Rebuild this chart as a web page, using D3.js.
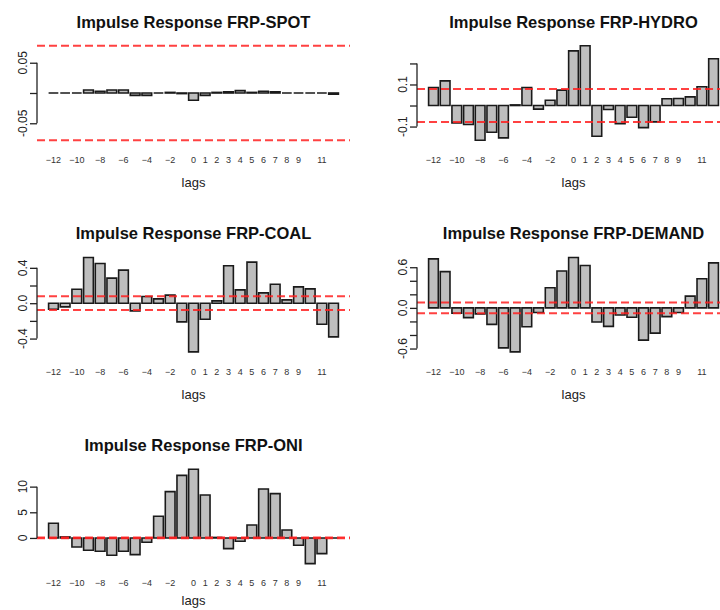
<!DOCTYPE html>
<html>
<head>
<meta charset="utf-8">
<script src="https://cdn.jsdelivr.net/npm/d3@7"></script>
<style>
  body { margin: 0; background: #fff; }
  text { font-family: "Liberation Sans", Arial, sans-serif; }
</style>
</head>
<body>
<div id="chart-area"></div>
<script>
const lags = [-12, -11, -10, -9, -8, -7, -6, -5, -4, -3, -2, -1, 0, 1, 2, 3, 4, 5, 6, 7, 8, 9, 10, 11, 12];
const lagLabels = ['\u221212', '', '\u221210', '', '\u22128', '', '\u22126', '', '\u22124', '', '\u22122', '',
    '0', '1', '2', '3', '4', '5', '6', '7', '8', '9', '', '11', ''];

const titles = ['Impulse Response FRP-SPOT', 'Impulse Response FRP-HYDRO', 'Impulse Response FRP-COAL',
    'Impulse Response FRP-DEMAND', 'Impulse Response FRP-ONI'];

const spot = [0.000, 0.000, 0.000, 0.005, 0.003, 0.005, 0.005, -0.004, -0.004, 0.000, 0.001, -0.001,
    -0.012, -0.004, 0.001, 0.002, 0.004, 0.001, 0.003, 0.002, 0.000, 0.000, 0.000, 0.000, -0.002];
const hydro = [0.086, 0.117, -0.083, -0.090, -0.165, -0.127, -0.154, 0.003, 0.086, -0.017, 0.025, 0.073,
    0.260, 0.284, -0.146, -0.019, -0.086, -0.056, -0.105, -0.078, 0.032, 0.033, 0.041, 0.089, 0.222];
const coal = [-0.068, -0.042, 0.158, 0.517, 0.449, 0.283, 0.374, -0.087, 0.075, 0.049, 0.091, -0.211,
    -0.551, -0.181, 0.026, 0.423, 0.151, 0.464, 0.117, 0.215, 0.038, 0.185, 0.162, -0.238, -0.381];
const demand = [0.724, 0.535, -0.079, -0.144, -0.089, -0.243, -0.590, -0.650, -0.278, -0.069, 0.297, 0.545,
    0.744, 0.625, -0.208, -0.273, -0.104, -0.139, -0.476, -0.372, -0.129, -0.069, 0.174, 0.431, 0.664];
const oni = [2.86, 0.2, -1.75, -2.4, -2.6, -3.38, -2.6, -3.25, -0.84, 4.22, 9.03, 12.2,
    13.4, 8.38, 0.1, -2.08, -0.65, 2.53, 9.55, 8.64, 1.56, -1.43, -5.0, -3.05, 0.0];

const series = [spot, hydro, coal, demand, oni];

// confidence band (same for every panel)
const ciLevel = 0.078;

const yTicks = [
    [-0.05, 0, 0.05],
    [-0.1, 0, 0.1, 0.2],
    [-0.4, -0.2, 0, 0.2, 0.4],
    [-0.6, -0.4, -0.2, 0, 0.2, 0.4, 0.6],
    [0, 5, 10]
];
const yTickLabels = [
    ['-0.05', '', '0.05'],
    ['-0.1', '', '0.1', ''],
    ['-0.4', '', '0.0', '', '0.4'],
    ['-0.6', '', '', '0.0', '', '', '0.6'],
    ['0', '5', '10']
];

const W = 720, H = 610;
const colX = [0, 380];
const rowH = 211.7;
const plot = {left: 37, right: 350, top: 42, bottom: 144};

const svg = d3.select('#chart-area')
    .append('svg')
    .attr('width', W)
    .attr('height', H);

series.forEach((values, k) => {
    const col = k % 2, row = Math.floor(k / 2);
    const offY = row * rowH;
    const g = svg.append('g')
        .attr('transform', 'translate(' + colX[col] + ', ' + offY + ')');

    // R barplot geometry: width 1, space 0.2, 4% axis padding
    const xLo = 0.2, xHi = 0.2 + 1.2 * (lags.length - 1) + 1;
    const xPad = (xHi - xLo) * 0.04;
    const xScale = d3.scaleLinear()
        .domain([xLo - xPad, xHi + xPad])
        .range([plot.left, plot.right]);

    const ext = d3.extent(values.concat([ciLevel, -ciLevel]));
    const yPad = (ext[1] - ext[0]) * 0.04;
    const yScale = d3.scaleLinear()
        .domain([ext[0] - yPad, ext[1] + yPad])
        .range([plot.bottom, plot.top]);

    g.append('text')
        .text(titles[k])
        .attr('x', (plot.left + plot.right) / 2)
        .attr('y', 27.5)
        .attr('text-anchor', 'middle')
        .attr('font-size', '16.5px')
        .attr('font-weight', 'bold')
        .attr('fill', '#111');

    // bars as closed paths so zero-height bars still show as a line
    g.selectAll('path.bar')
        .data(values)
        .enter()
        .append('path')
        .attr('class', 'bar')
        .attr('d', (d, i) => {
            const x0 = xScale(0.2 + 1.2 * i), x1 = xScale(1.2 + 1.2 * i);
            const y0 = yScale(0), y1 = yScale(d);
            return 'M' + x0 + ',' + y0 + 'L' + x1 + ',' + y0 + 'L' + x1 + ',' + y1 + 'L' + x0 + ',' + y1 + 'Z';
        })
        .attr('fill', '#bebebe')
        .attr('stroke', '#1a1a1a')
        .attr('stroke-width', 1.6);

    [ciLevel, -ciLevel].forEach((c) => {
        g.append('line')
            .attr('x1', plot.left)
            .attr('x2', plot.right)
            .attr('y1', yScale(c))
            .attr('y2', yScale(c))
            .attr('stroke', '#ff2020')
            .attr('stroke-opacity', 0.85)
            .attr('stroke-width', 2)
            .attr('stroke-dasharray', '8,4');
    });

    // y axis (line spans the tick range only, like base R)
    const ticks = yTicks[k];
    const yAxis = d3.axisLeft(yScale)
        .tickValues(ticks)
        .tickSize(7)
        .tickFormat('');
    const yAxisGroup = g.append('g')
        .attr('transform', 'translate(' + plot.left + ', 0)')
        .call(yAxis);
    yAxisGroup.select('.domain').remove();
    yAxisGroup.selectAll('.tick line').attr('stroke', '#222').attr('stroke-width', 1.3);
    yAxisGroup.append('line')
        .attr('y1', yScale(d3.min(ticks)))
        .attr('y2', yScale(d3.max(ticks)))
        .attr('stroke', '#222')
        .attr('stroke-width', 1.3);

    g.selectAll('text.ylab')
        .data(ticks)
        .enter()
        .append('text')
        .attr('class', 'ylab')
        .text((d, i) => yTickLabels[k][i])
        .attr('transform', d => 'translate(' + (plot.left - 10) + ', ' + yScale(d) + ') rotate(-90)')
        .attr('text-anchor', 'middle')
        .attr('font-size', '12px')
        .attr('fill', '#222');

    g.selectAll('text.xlab')
        .data(lags)
        .enter()
        .append('text')
        .attr('class', 'xlab')
        .text((d, i) => lagLabels[i])
        .attr('x', (d, i) => xScale(0.7 + 1.2 * i))
        .attr('y', plot.bottom + 19)
        .attr('text-anchor', 'middle')
        .attr('font-size', '9px')
        .attr('fill', '#333');

    // keep the bottom row's label inside the page
    g.append('text')
        .text('lags')
        .attr('x', (plot.left + plot.right) / 2)
        .attr('y', Math.min(187, H - 5 - offY))
        .attr('text-anchor', 'middle')
        .attr('font-size', '13px')
        .attr('fill', '#222');
});
</script>
</body>
</html>
